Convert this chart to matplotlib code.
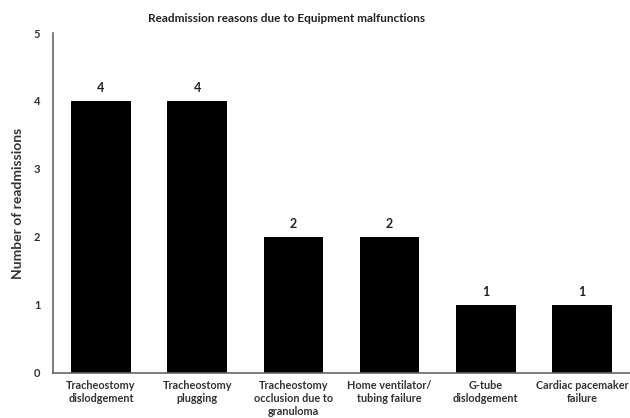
import matplotlib.pyplot as plt

plt.rcParams['font.family'] = ['Lato', 'DejaVu Sans']

# readmissions per equipment problem
reasons = ['Tracheostomy\ndislodgement', 'Tracheostomy\nplugging',
           'Tracheostomy\nocclusion due to\ngranuloma', 'Home ventilator/\ntubing failure',
           'G-tube\ndislodgement', 'Cardiac pacemaker\nfailure']
counts = [4, 4, 2, 2, 1, 1]
y_ticks = [0, 1, 2, 3, 4, 5]

fig = plt.figure(figsize=(6.3, 4.18), dpi=100)
ax = fig.add_axes([0.084, 0.108, 0.916, 0.813])

x = range(len(counts))
bars = ax.bar(x, counts, width=0.62, color='black')
for b, c in zip(bars, counts):
    ax.text(b.get_x() + b.get_width() / 2, c + 0.1, str(c), ha='center', va='bottom',
            fontsize=9, fontweight='bold', color='#222222')

ax.set_xlim(-0.5, 5.5)
ax.set_ylim(0, 5)
ax.set_yticks(y_ticks)
ax.set_xticks(list(x))
ax.set_xticklabels(reasons, fontsize=7.8, fontweight='bold', color='#333333', linespacing=1.25)
ax.tick_params(axis='y', length=0, pad=9, labelsize=8, labelcolor='#333333')
ax.tick_params(axis='x', length=0, pad=5)
for lab in ax.get_yticklabels():
    lab.set_fontweight('bold')

for s in ['top', 'right']:
    ax.spines[s].set_visible(False)
for s in ['left', 'bottom']:
    ax.spines[s].set_color('#666666')
    ax.spines[s].set_linewidth(1.2)

ax.set_ylabel('Number of readmissions', fontsize=10, fontweight='bold', color='#333333', labelpad=7)
fig.text(0.455, 0.955, 'Readmission reasons due to Equipment malfunctions', ha='center', va='center',
         fontsize=8.5, fontweight='bold', color='#222222')

fig.savefig('out.png', dpi=100)
